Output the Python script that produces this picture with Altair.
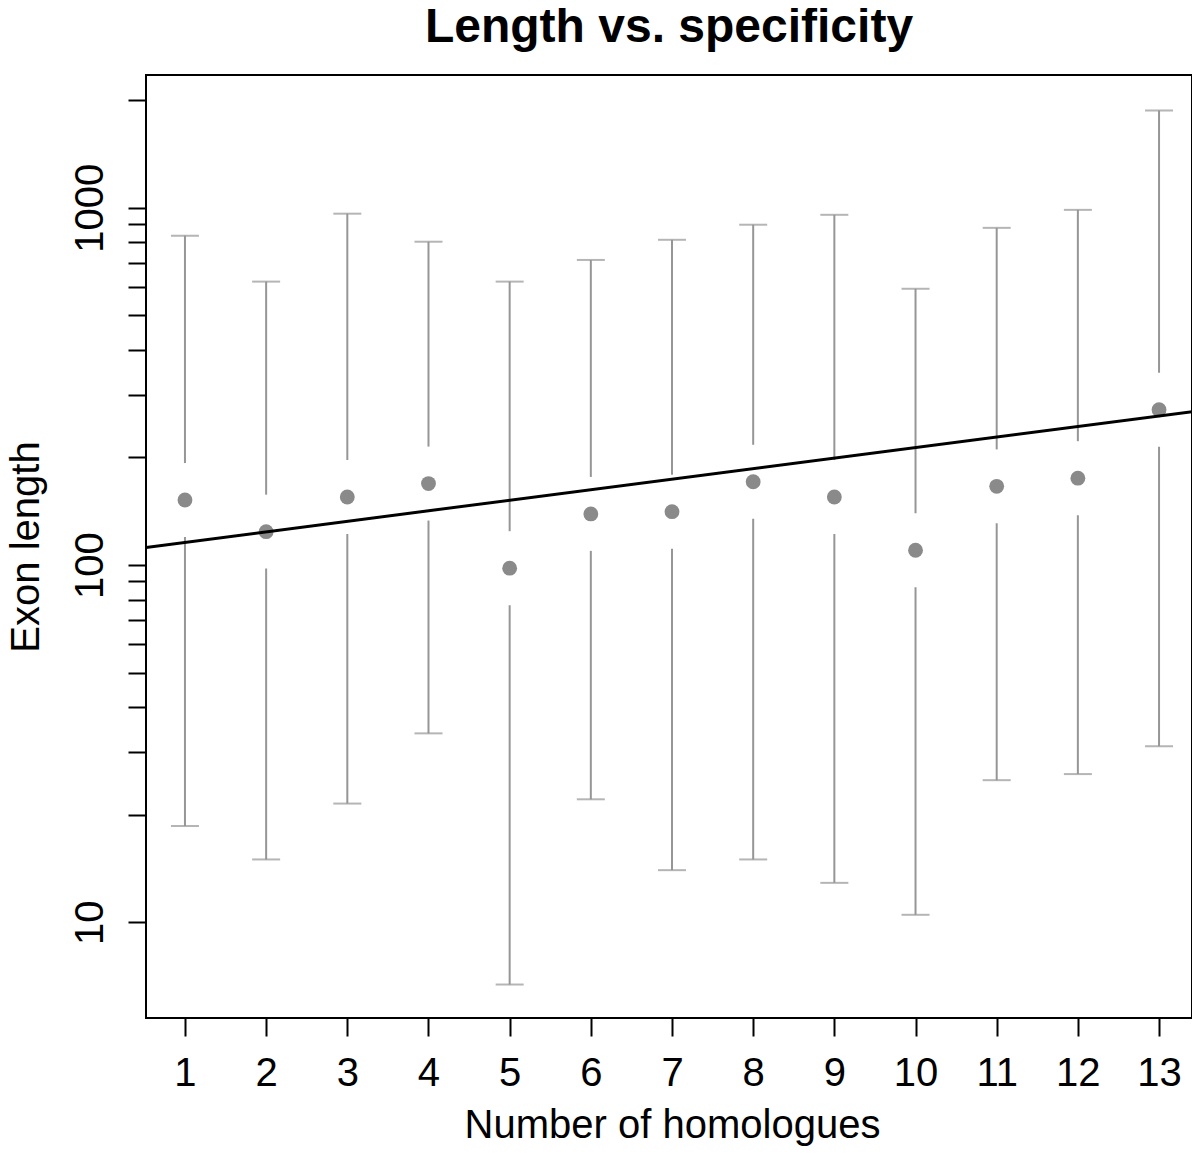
import altair as alt
import pandas as pd

# ---- data ----
homologues = list(range(1, 14))
centre_len = [152, 124, 155, 169, 98, 139, 141, 171, 155, 110, 166, 175, 272]
lower_len = [18.6, 15.0, 21.5, 33.8, 6.7, 22.1, 14.0, 15.0, 12.9, 10.5, 25.0, 26.0, 31.1]
upper_len = [835, 621, 962, 803, 621, 714, 813, 896, 955, 593, 878, 986, 1870]

fit_x = [0.52, 13.48]
fit_y = [112, 270]

x_ticks = list(range(1, 14))
y_ticks = [10, 20, 30, 40, 50, 60, 70, 80, 90,
           100, 200, 300, 400, 500, 600, 700, 800, 900,
           1000, 2000]
y_labelled = [10, 100, 1000]

x_domain = [0.52, 13.406]
y_domain = [5.40, 2351]

df = pd.DataFrame({"n": homologues, "mid": centre_len,
                   "lo": lower_len, "hi": upper_len})
fit = pd.DataFrame({"n": fit_x, "fit": fit_y})

FONT = "Liberation Sans"
GAP = 1.269  # visual gap around each point (factor on log scale)

xscale = alt.Scale(domain=x_domain, nice=False, zero=False)
yscale = alt.Scale(type="log", domain=y_domain, nice=False)

xaxis = alt.Axis(values=x_ticks, title="Number of homologues", grid=False,
                 domain=False, tickColor="black", tickWidth=2, tickSize=18,
                 labelFontSize=40, labelFont=FONT, labelColor="black",
                 labelBaseline="top", labelPadding=17, labelAngle=0,
                 titleFont=FONT, titleFontSize=40, titleFontWeight="normal",
                 titleColor="black", titleBaseline="alphabetic",
                 titleY=119, titleX=526)
label_expr = " || ".join(f"datum.value == {v}" for v in y_labelled)
yaxis = alt.Axis(values=y_ticks, title="Exon length", grid=False,
                 domain=False, tickColor="black", tickWidth=2, tickSize=18,
                 labelFontSize=40, labelFont=FONT, labelColor="black",
                 labelAngle=270, labelAlign="center",
                 labelBaseline="alphabetic", labelPadding=26,
                 labelExpr=f"({label_expr}) ? format(datum.value, 'd') : ''",
                 labelOverlap=False,
                 titleFont=FONT, titleFontSize=40, titleFontWeight="normal",
                 titleColor="black", titleAngle=270, titleAlign="center",
                 titleBaseline="alphabetic", titleX=-108, titleY=471.5)


def X(field="n"):
    return alt.X(f"{field}:Q", scale=xscale, axis=xaxis)


def Y(field):
    return alt.Y(f"{field}:Q", scale=yscale, axis=yaxis)


base = alt.Chart(df).transform_calculate(
    gap_lo=f"datum.mid / {GAP}", gap_hi=f"datum.mid * {GAP}")

bar_color = "#969696"
lower_bar = base.mark_rule(color=bar_color, strokeWidth=2).encode(
    x=X(), y=Y("lo"), y2="gap_lo:Q")
upper_bar = base.mark_rule(color=bar_color, strokeWidth=2).encode(
    x=X(), y=Y("gap_hi"), y2="hi:Q")
cap_lo = base.mark_tick(orient="horizontal", size=28, thickness=2,
                        color=bar_color).encode(x=X(), y=Y("lo"))
cap_hi = base.mark_tick(orient="horizontal", size=28, thickness=2,
                        color=bar_color).encode(x=X(), y=Y("hi"))
points = base.mark_circle(size=220, color="#8a8a8a", opacity=1).encode(
    x=X(), y=Y("mid"))
line = alt.Chart(fit).mark_line(color="black", strokeWidth=3,
                                clip=True).encode(x=X(), y=Y("fit"))

chart = alt.layer(lower_bar, upper_bar, cap_lo, cap_hi, points, line).properties(
    width=1046, height=943,
    background="white",
    autosize=alt.AutoSizeParams(type="none"),
    padding={"left": 138, "top": 67, "right": 0, "bottom": 128},
    title=alt.TitleParams("Length vs. specificity", font=FONT, fontSize=48,
                          fontWeight="bold", color="black", anchor="middle",
                          baseline="alphabetic", offset=0, dy=15),
).configure_view(stroke="black", strokeWidth=2)

chart.save("out.html", embed_options={"renderer": "svg", "actions": False})
